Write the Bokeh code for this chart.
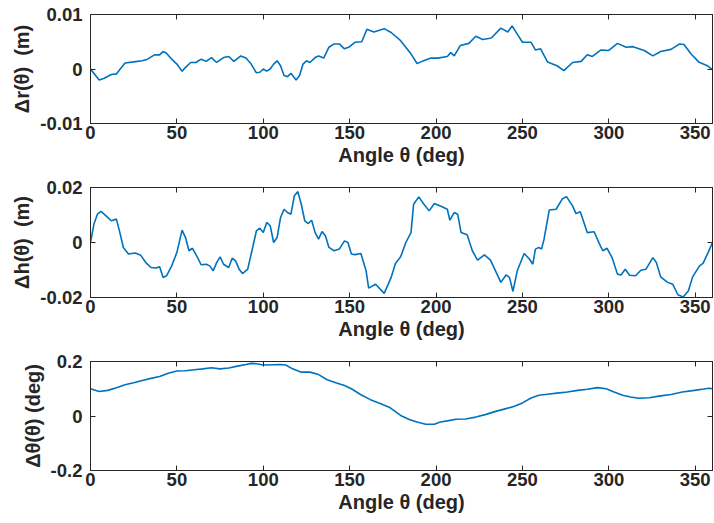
from bokeh.plotting import figure
from bokeh.layouts import column
from bokeh.models import FixedTicker, LinearAxis, Range1d, CustomJSTickFormatter
from bokeh.embed import file_html
from bokeh.resources import INLINE

# ---------------- data ----------------
x_ticks = [0, 50, 100, 150, 200, 250, 300, 350]
x_label = "Angle θ (deg)"

# Δr(θ) in metres
r_deg = [0, 5, 8, 12, 15, 18, 20, 25, 30, 33,
         37, 40, 42, 44, 47, 50, 53, 55, 58, 61,
         64, 67, 70, 73, 77, 80, 83, 87, 90, 93,
         96, 98, 100, 102, 104, 106, 108, 110, 112, 114,
         116, 119, 121, 123, 125, 127, 130, 132, 135, 138,
         141, 144, 147, 150, 153, 157, 160, 164, 170, 174,
         179.5, 185, 189, 192, 197, 201, 206.5, 208.5, 210.5, 214,
         219, 223, 227, 232, 237.5, 241.5, 244, 247, 250, 255,
         257.5, 260.5, 264.5, 270, 274, 279, 284, 287.5, 290.5, 295.5,
         300, 305, 310, 314, 320.5, 325.5, 330, 336, 341, 343.5,
         347.5, 352, 357, 360]
r_val = [0.0, -0.0020, -0.0017, -0.0010, -0.0009, 0.0003, 0.0011, 0.0013, 0.0015, 0.0018,
         0.0026, 0.0026, 0.0032, 0.0029, 0.0018, 0.0009, -0.0004, 0.0003, 0.0012, 0.0012,
         0.0018, 0.0014, 0.0021, 0.0012, 0.0021, 0.0023, 0.0014, 0.0024, 0.0020, 0.0009,
         -0.0007, -0.0006, 0.0, -0.0004, 0.0, 0.0009, 0.0015, 0.0006, -0.0012, -0.0014,
         -0.0008, -0.0020, -0.0012, 0.0009, 0.0015, 0.0012, 0.0021, 0.0024, 0.0020, 0.0040,
         0.0046, 0.0046, 0.0037, 0.0041, 0.0049, 0.0050, 0.0073, 0.0068, 0.0074, 0.0067,
         0.0052, 0.0030, 0.0010, 0.0014, 0.0020, 0.0020, 0.0023, 0.0030, 0.0024, 0.0043,
         0.0047, 0.0060, 0.0054, 0.0057, 0.0075, 0.0068, 0.0079, 0.0064, 0.0049, 0.0049,
         0.0035, 0.0037, 0.0013, 0.0006, -0.0003, 0.0012, 0.0014, 0.0026, 0.0023, 0.0035,
         0.0034, 0.0047, 0.0040, 0.0041, 0.0034, 0.0024, 0.0032, 0.0036, 0.0046, 0.0045,
         0.0028, 0.0013, 0.0006, -0.0001]
r_ticks = [-0.01, 0, 0.01]
r_tick_labels = ["-0.01", "0", "0.01"]
r_label = "Δr(θ)\u00a0\u00a0(m)"

# Δh(θ) in metres
h_deg = [0, 2, 4, 6, 9, 12, 15, 17, 19, 22,
         26, 29, 32, 35, 38, 40, 42, 44, 47, 50,
         53, 55, 57, 59, 62, 64, 67, 69, 71, 73,
         75, 77, 80, 82, 84, 86, 88, 91, 93, 96,
         98, 100, 102, 104, 106, 108, 110, 112, 114, 116,
         118, 120, 122, 124, 126, 128, 130, 132, 134, 136,
         138, 141, 144, 147, 149, 151, 153, 156.5, 159.5, 161,
         165, 170, 174, 176.5, 179.5, 182.5, 185.5, 187, 190, 193,
         196, 199, 203.5, 206.5, 208, 210.5, 212.5, 214.5, 218, 221,
         224, 228, 231.5, 235.5, 237.5, 240.5, 242.5, 244.5, 247, 251,
         254, 256, 257.5, 259.5, 261, 262.5, 265.5, 269.5, 273, 275.5,
         279, 281, 283.5, 287.5, 291.5, 294.5, 296.5, 299, 302, 305,
         307, 309.5, 312, 315.5, 318.5, 321.5, 325.5, 327.5, 330, 334,
         337, 340, 343, 346, 348.5, 352.5, 354.5, 357.5, 360]
h_val = [0.0, 0.0067, 0.0103, 0.0113, 0.0097, 0.0079, 0.0085, 0.0036, -0.0018, -0.0042,
         -0.0038, -0.0046, -0.0073, -0.0091, -0.0093, -0.0088, -0.0127, -0.0121, -0.0085, -0.0036,
         0.0045, 0.0018, -0.0030, -0.0021, -0.0055, -0.0081, -0.0079, -0.0085, -0.0103, -0.0073,
         -0.0052, -0.0079, -0.0091, -0.0057, -0.0067, -0.0097, -0.0113, -0.0097, -0.0042, 0.0042,
         0.0052, 0.0036, 0.0073, 0.0061, 0.0, 0.0018, 0.0091, 0.0121, 0.0109, 0.0103,
         0.0170, 0.0185, 0.0139, 0.0079, 0.0069, 0.0081, 0.0036, 0.0012, 0.0040, 0.0024,
         -0.0018, -0.0030, -0.0024, 0.0006, 0.0, -0.0042, -0.0044, -0.0040, -0.0103, -0.0166,
         -0.0152, -0.0185, -0.0127, -0.0076, -0.0052, 0.0, 0.0036, 0.0139, 0.0166, 0.0139,
         0.0115, 0.0142, 0.0130, 0.0121, 0.0081, 0.0109, 0.0103, 0.0036, 0.0028, -0.0030,
         -0.0064, -0.0045, -0.0064, -0.0118, -0.0145, -0.0118, -0.0127, -0.0178, -0.0103, -0.0040,
         -0.0060, -0.0079, -0.0024, -0.0018, -0.0024, 0.0012, 0.0118, 0.0121, 0.0158, 0.0167,
         0.0133, 0.0105, 0.0112, 0.0036, 0.0039, -0.0004, -0.0030, -0.0021, -0.0057, -0.0115,
         -0.0118, -0.0097, -0.0119, -0.0121, -0.0101, -0.0097, -0.0055, -0.0073, -0.0125, -0.0145,
         -0.0152, -0.0190, -0.0198, -0.0176, -0.0125, -0.0085, -0.0076, -0.0036, 0.0]
h_ticks = [-0.02, 0, 0.02]
h_tick_labels = ["-0.02", "0", "0.02"]
h_label = "Δh(θ)\u00a0\u00a0(m)"

# Δθ(θ) in degrees
t_deg = [0, 5, 10, 15, 20, 25, 30, 35, 40, 45,
         50, 55, 60, 65, 70, 75, 80, 85, 90, 93,
         96, 100, 105, 110, 113, 117, 122, 127, 132, 137,
         142, 147, 151, 156.5, 162, 168, 173.5, 179.5, 184.5, 189,
         194, 199, 202.5, 206.5, 211.5, 217, 223, 229, 234.5, 240.5,
         245, 250, 255, 259.5, 264.5, 270, 276, 282, 287.5, 293.5,
         298.5, 303, 308, 312.5, 317.5, 323.5, 329, 336, 342.5, 349.5,
         355, 358, 360]
t_val = [0.100, 0.090, 0.094, 0.104, 0.115, 0.122, 0.130, 0.138, 0.145, 0.157,
         0.165, 0.166, 0.170, 0.173, 0.177, 0.173, 0.176, 0.183, 0.189, 0.193,
         0.192, 0.187, 0.188, 0.189, 0.187, 0.173, 0.161, 0.161, 0.152, 0.133,
         0.122, 0.112, 0.100, 0.078, 0.060, 0.045, 0.030, 0.002, -0.013, -0.022,
         -0.030, -0.030, -0.022, -0.018, -0.012, -0.011, -0.004, 0.006, 0.017, 0.027,
         0.035, 0.048, 0.066, 0.076, 0.080, 0.084, 0.088, 0.094, 0.098, 0.104,
         0.100, 0.088, 0.076, 0.070, 0.065, 0.067, 0.073, 0.079, 0.088, 0.094,
         0.099, 0.102, 0.100]
t_ticks = [-0.2, 0, 0.2]
t_tick_labels = ["-0.2", "0", "0.2"]
t_label = "Δθ(θ) (deg)"

# ---------------- styling ----------------
AX = "#262626"
LINE = "#0072BD"
FONT = "Liberation Sans"
TICK_FS = "18.5px"
LABEL_FS = "20px"


def style_axis(ax):
    ax.major_tick_in = 5
    ax.major_tick_out = 0
    ax.minor_tick_line_color = None
    ax.axis_line_color = AX
    ax.axis_line_width = 1
    ax.major_tick_line_color = AX
    ax.major_label_text_font = FONT
    ax.major_label_text_font_style = "bold"
    ax.major_label_text_font_size = TICK_FS
    ax.major_label_text_color = AX
    ax.axis_label_text_font = FONT
    ax.axis_label_text_font_style = "bold"
    ax.axis_label_text_font_size = LABEL_FS
    ax.axis_label_text_color = AX


def blank_axis(ticks):
    ax = LinearAxis(ticker=FixedTicker(ticks=ticks, minor_ticks=[]),
                    formatter=CustomJSTickFormatter(code="return ''"))
    ax.major_tick_in = 5
    ax.major_tick_out = 0
    ax.major_label_standoff = 0
    ax.major_label_text_font_size = "1px"
    ax.minor_tick_line_color = None
    ax.axis_line_color = AX
    ax.major_tick_line_color = AX
    return ax


def make_panel(deg, val, ticks, tick_labels, ylabel, height, top, bottom):
    p = figure(width=714, height=height,
               x_range=Range1d(0, 360), y_range=Range1d(ticks[0], ticks[-1]),
               output_backend="svg", toolbar_location=None,
               min_border_left=90, min_border_right=2,
               min_border_top=top, min_border_bottom=bottom)
    p.line(deg, val, line_color=LINE, line_width=1.6)
    p.grid.visible = False
    p.outline_line_color = AX
    p.background_fill_color = "white"
    p.border_fill_color = "white"

    xa = p.xaxis[0]
    xa.ticker = FixedTicker(ticks=x_ticks, minor_ticks=[])
    style_axis(xa)
    xa.major_label_standoff = 2
    xa.axis_label = x_label
    xa.axis_label_standoff = 2

    ya = p.yaxis[0]
    ya.ticker = FixedTicker(ticks=ticks, minor_ticks=[])
    style_axis(ya)
    ya.major_label_overrides = {t: l for t, l in zip(ticks, tick_labels)}
    ya.major_label_standoff = 8
    ya.axis_label = ylabel
    ya.axis_label_standoff = 4

    p.add_layout(blank_axis(x_ticks), "above")
    p.add_layout(blank_axis(ticks), "right")
    return p


p1 = make_panel(r_deg, r_val, r_ticks, r_tick_labels, r_label, 178, 14, 55)
p2 = make_panel(h_deg, h_val, h_ticks, h_tick_labels, h_label, 170, 9, 51)
p3 = make_panel(t_deg, t_val, t_ticks, t_tick_labels, t_label, 167, 13, 45)

p = column(p1, p2, p3)
open("out.html", "w").write(file_html(p, INLINE))
